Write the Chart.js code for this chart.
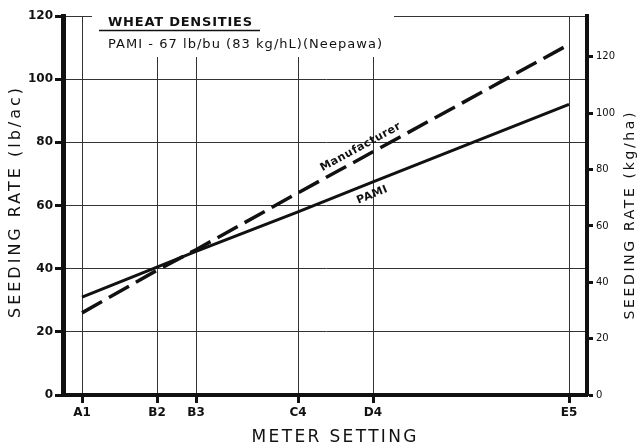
<!DOCTYPE html>
<html>
<head>
<meta charset="utf-8">
<script src="https://cdn.jsdelivr.net/npm/chart.js@4.4.1/dist/chart.umd.min.js"></script>
<style>
  html, body { margin: 0; padding: 0; background: #fff; }
  #wrap { width: 637px; height: 445px; position: relative; }
</style>
</head>
<body>
<div id="wrap"><canvas id="seedChart"></canvas></div>
<script>
// meter settings and where they sit on the meter scale
const settingLabels = ['A1', 'B2', 'B3', 'C4', 'D4', 'E5']
const settingPos = [0, 7.5, 11.4, 21.6, 29.1, 48.7]

// seeding rate, lb/ac
const pamiRate = [31, 40.5, 45.5, 58, 67.5, 92]
const manufacturerRate = [26, 39.5, 46, 64, 77, 111]

const leftTicks = [0, 20, 40, 60, 80, 100, 120]
const rightTicks = [0, 20, 40, 60, 80, 100, 120]
const KG_HA_PER_LB_AC = 1.12085

const ink = '#111'

// draws text with extra spacing so it fills a given width
function spacedText(ctx, text, x, y, width, align) {
    ctx.save()
    ctx.letterSpacing = '0px'
    const w = ctx.measureText(text).width
    const sp = Math.max(0, (width - w) / (text.length - 1))
    ctx.letterSpacing = sp + 'px'
    const total = w + sp * (text.length - 1)
    let sx = x
    if (align === 'center') sx = x - total / 2
    ctx.textAlign = 'left'
    ctx.fillText(text, sx, y)
    ctx.restore()
}

const annotations = {
    id: 'annotations',
    beforeDatasetsDraw(chart) {
        const ctx = chart.ctx
        // white panel behind the heading
        ctx.save()
        ctx.fillStyle = '#fff'
        ctx.fillRect(92, 8, 302, 49)
        ctx.fillStyle = ink
        ctx.textBaseline = 'alphabetic'
        ctx.font = 'bold 13px "DejaVu Sans"'
        spacedText(ctx, 'WHEAT DENSITIES', 108, 26, 144)
        ctx.strokeStyle = ink
        ctx.lineWidth = 1.5
        ctx.beginPath()
        ctx.moveTo(99, 30.5)
        ctx.lineTo(260, 30.5)
        ctx.stroke()
        ctx.font = '13px "DejaVu Sans"'
        spacedText(ctx, 'PAMI - 67 lb/bu (83 kg/hL)(Neepawa)', 108, 48, 274)
        ctx.restore()
    },
    afterDatasetsDraw(chart) {
        const ctx = chart.ctx
        const spots = [
            { ds: 0, t: 0.93, off: 12 },
            { ds: 1, t: 0.9, off: -10 },
        ]
        ctx.save()
        ctx.fillStyle = ink
        ctx.font = 'bold 11px "DejaVu Sans"'
        ctx.textAlign = 'center'
        ctx.textBaseline = 'middle'
        spots.forEach(s => {
            const pts = chart.getDatasetMeta(s.ds).data
            const a = pts[3], b = pts[4]
            const ang = Math.atan2(b.y - a.y, b.x - a.x)
            const px = a.x + (b.x - a.x) * s.t - Math.sin(ang) * s.off
            const py = a.y + (b.y - a.y) * s.t + Math.cos(ang) * s.off
            ctx.save()
            ctx.translate(px, py)
            ctx.rotate(ang)
            ctx.letterSpacing = '0.5px'
            ctx.fillText(chart.data.datasets[s.ds].label, 0, 0)
            ctx.restore()
        })

        // axis titles
        ctx.textAlign = 'left'
        ctx.textBaseline = 'middle'
        ctx.save()
        ctx.translate(16, 203)
        ctx.rotate(-Math.PI / 2)
        ctx.font = '16px "DejaVu Sans"'
        spacedText(ctx, 'SEEDING RATE (lb/ac)', 0, 0, 230, 'center')
        ctx.restore()

        ctx.save()
        ctx.translate(630, 216)
        ctx.rotate(-Math.PI / 2)
        ctx.font = '14px "DejaVu Sans"'
        spacedText(ctx, 'SEEDING RATE (kg/ha)', 0, 0, 207, 'center')
        ctx.restore()

        ctx.textBaseline = 'alphabetic'
        ctx.font = '17px "DejaVu Sans"'
        spacedText(ctx, 'METER SETTING', 334, 442, 165, 'center')
        ctx.restore()
    },
}

Chart.defaults.font.family = '"DejaVu Sans"'
Chart.defaults.color = ink

const ctx = document.getElementById('seedChart').getContext('2d')
new Chart(ctx, {
    type: 'line',
    data: {
        datasets: [
            {
                label: 'PAMI',
                data: settingPos.map((x, i) => ({ x: x, y: pamiRate[i] })),
                borderColor: ink,
                borderWidth: 3,
                pointRadius: 0,
                tension: 0,
            },
            {
                label: 'Manufacturer',
                data: settingPos.map((x, i) => ({ x: x, y: manufacturerRate[i] })),
                borderColor: ink,
                borderWidth: 3.5,
                borderDash: [23, 8],
                pointRadius: 0,
                tension: 0,
            },
        ],
    },
    options: {
        responsive: true,
        maintainAspectRatio: false,
        animation: false,
        layout: { padding: { top: 16 } },
        plugins: {
            legend: { display: false },
            tooltip: { enabled: false },
        },
        scales: {
            x: {
                type: 'linear',
                min: -1.9,
                max: 50.5,
                afterBuildTicks: axis => {
                    axis.ticks = settingPos.map(v => ({ value: v }))
                },
                afterFit: scale => { scale.height = 50 },
                ticks: {
                    callback: (v, i) => settingLabels[i],
                    font: { size: 12, weight: 'bold' },
                    padding: 3,
                    maxRotation: 0,
                },
                grid: {
                    color: '#333',
                    lineWidth: 1,
                    tickColor: ink,
                    tickWidth: 3,
                    tickLength: 8,
                },
                border: { color: ink, width: 4 },
            },
            y: {
                position: 'left',
                min: 0,
                max: 120,
                afterBuildTicks: axis => {
                    axis.ticks = leftTicks.map(v => ({ value: v }))
                },
                afterFit: scale => { scale.width = 63 },
                ticks: { font: { size: 12, weight: 'bold' }, padding: 2 },
                grid: {
                    color: '#333',
                    lineWidth: 1,
                    tickColor: ink,
                    tickWidth: 3,
                    tickLength: 8,
                },
                border: { color: ink, width: 5 },
            },
            y2: {
                position: 'right',
                min: 0,
                max: 120 * KG_HA_PER_LB_AC,
                afterBuildTicks: axis => {
                    axis.ticks = rightTicks.map(v => ({ value: v }))
                },
                afterFit: scale => { scale.width = 50 },
                ticks: { font: { size: 10 }, padding: 3 },
                grid: {
                    drawOnChartArea: false,
                    tickColor: ink,
                    tickWidth: 3,
                    tickLength: 6,
                },
                border: { color: ink, width: 4 },
            },
        },
    },
    plugins: [annotations],
})
</script>
</body>
</html>
